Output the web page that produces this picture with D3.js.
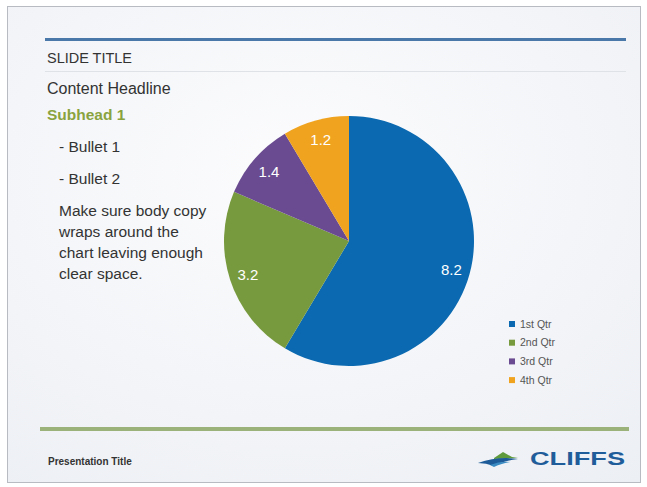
<!DOCTYPE html>
<html><head><meta charset="utf-8">
<script src="https://cdn.jsdelivr.net/npm/d3@7"></script>
<style>html,body{margin:0;padding:0;background:#fff;}svg{display:block;font-family:"Liberation Sans",Arial,sans-serif;}</style>
</head><body>
<svg id="c" width="647" height="487"></svg>
<script>
const categories = ["1st Qtr", "2nd Qtr", "3rd Qtr", "4th Qtr"];
const values = [8.2, 3.2, 1.4, 1.2];
const colors = ["#0a69b0", "#789a3e", "#6a4b91", "#f0a31f"];
const bodyLines = ["Make sure body copy", "wraps around the", "chart leaving enough", "clear space."];
const bullets = ["- Bullet 1", "- Bullet 2"];

const svg = d3.select("#c");
const defs = svg.append("defs");
const g1 = defs.append("radialGradient").attr("id", "bg").attr("cx", "45%").attr("cy", "35%").attr("r", "85%");
g1.append("stop").attr("offset", "0%").attr("stop-color", "#fcfcfd");
g1.append("stop").attr("offset", "100%").attr("stop-color", "#eceff4");
svg.append("rect").attr("width", 647).attr("height", 487).attr("fill", "#ffffff");
svg.append("rect").attr("x", 7.5).attr("y", 6.5).attr("width", 633).attr("height", 476)
  .attr("fill", "url(#bg)").attr("stroke", "#b8bcc2").attr("stroke-width", 1);

// header lines
svg.append("rect").attr("x", 45).attr("y", 38).attr("width", 581).attr("height", 3).attr("fill", "#4a78a8");
svg.append("line").attr("x1", 45).attr("x2", 626).attr("y1", 71.5).attr("y2", 71.5).attr("stroke", "#dfe2e6");
svg.append("text").attr("x", 47).attr("y", 63).attr("font-size", 15).attr("fill", "#333")
  .attr("textLength", 85).attr("lengthAdjust", "spacingAndGlyphs").text("SLIDE TITLE");
svg.append("text").attr("x", 47).attr("y", 94).attr("font-size", 16).attr("fill", "#333").text("Content Headline");
svg.append("text").attr("x", 47).attr("y", 120).attr("font-size", 15.5).attr("font-weight", "bold").attr("fill", "#8aa33f").text("Subhead 1");
bullets.forEach((b, i) => svg.append("text").attr("x", 59).attr("y", 151.5 + i * 32).attr("font-size", 15.5).attr("fill", "#333").text(b));
bodyLines.forEach((t, i) => svg.append("text").attr("x", 59).attr("y", 215.5 + i * 21.3).attr("font-size", 15.5).attr("fill", "#333").text(t));

// pie
const cx = 349, cy = 241, R = 125;
const pie = d3.pie().sort(null).value(d => d)(values);
const arc = d3.arc().innerRadius(0).outerRadius(R);
const labelArc = d3.arc().innerRadius(R * 0.85).outerRadius(R * 0.85);
const pg = svg.append("g").attr("transform", `translate(${cx},${cy})`);
pg.selectAll("path").data(pie).join("path").attr("d", arc).attr("fill", (d, i) => colors[i]);
pg.selectAll("text").data(pie).join("text")
  .attr("transform", d => `translate(${labelArc.centroid(d)})`)
  .attr("text-anchor", "middle").attr("dy", "0.4em").attr("font-size", 15).attr("fill", "#fff")
  .text(d => d.value.toFixed(1));

// legend
const lg = svg.append("g");
categories.forEach((c, i) => {
  const y = 324 + i * 18.7;
  lg.append("rect").attr("x", 509).attr("y", y - 3).attr("width", 6).attr("height", 6).attr("fill", colors[i]);
  lg.append("text").attr("x", 520).attr("y", y).attr("dy", "0.35em").attr("font-size", 10.5).attr("fill", "#555").text(c);
});

// footer
svg.append("rect").attr("x", 40).attr("y", 427).attr("width", 589).attr("height", 4).attr("fill", "#9bb27a");
svg.append("text").attr("x", 48).attr("y", 465).attr("font-size", 10).attr("font-weight", "bold").attr("fill", "#333").text("Presentation Title");
// logo
const logo = svg.append("g").attr("transform", "translate(478,452)");
logo.append("path").attr("d", "M16,6 L25,0 L34,5 L40,6 L16,7 Z").attr("fill", "#5f9a3c");
logo.append("path").attr("d", "M0,11 Q20,4 40,7 Q24,9 16,14 Q8,11 0,11 Z").attr("fill", "#1c5a98");
logo.append("path").attr("d", "M12,13 Q22,9 32,10 Q22,12 16,15 Z").attr("fill", "#3a8bc2");
svg.append("text").attr("x", 530).attr("y", 465).attr("font-size", 18).attr("font-weight", "bold").attr("fill", "#1f5c9a")
  .attr("textLength", 95).attr("lengthAdjust", "spacingAndGlyphs").text("CLIFFS");
</script>
</body></html>
